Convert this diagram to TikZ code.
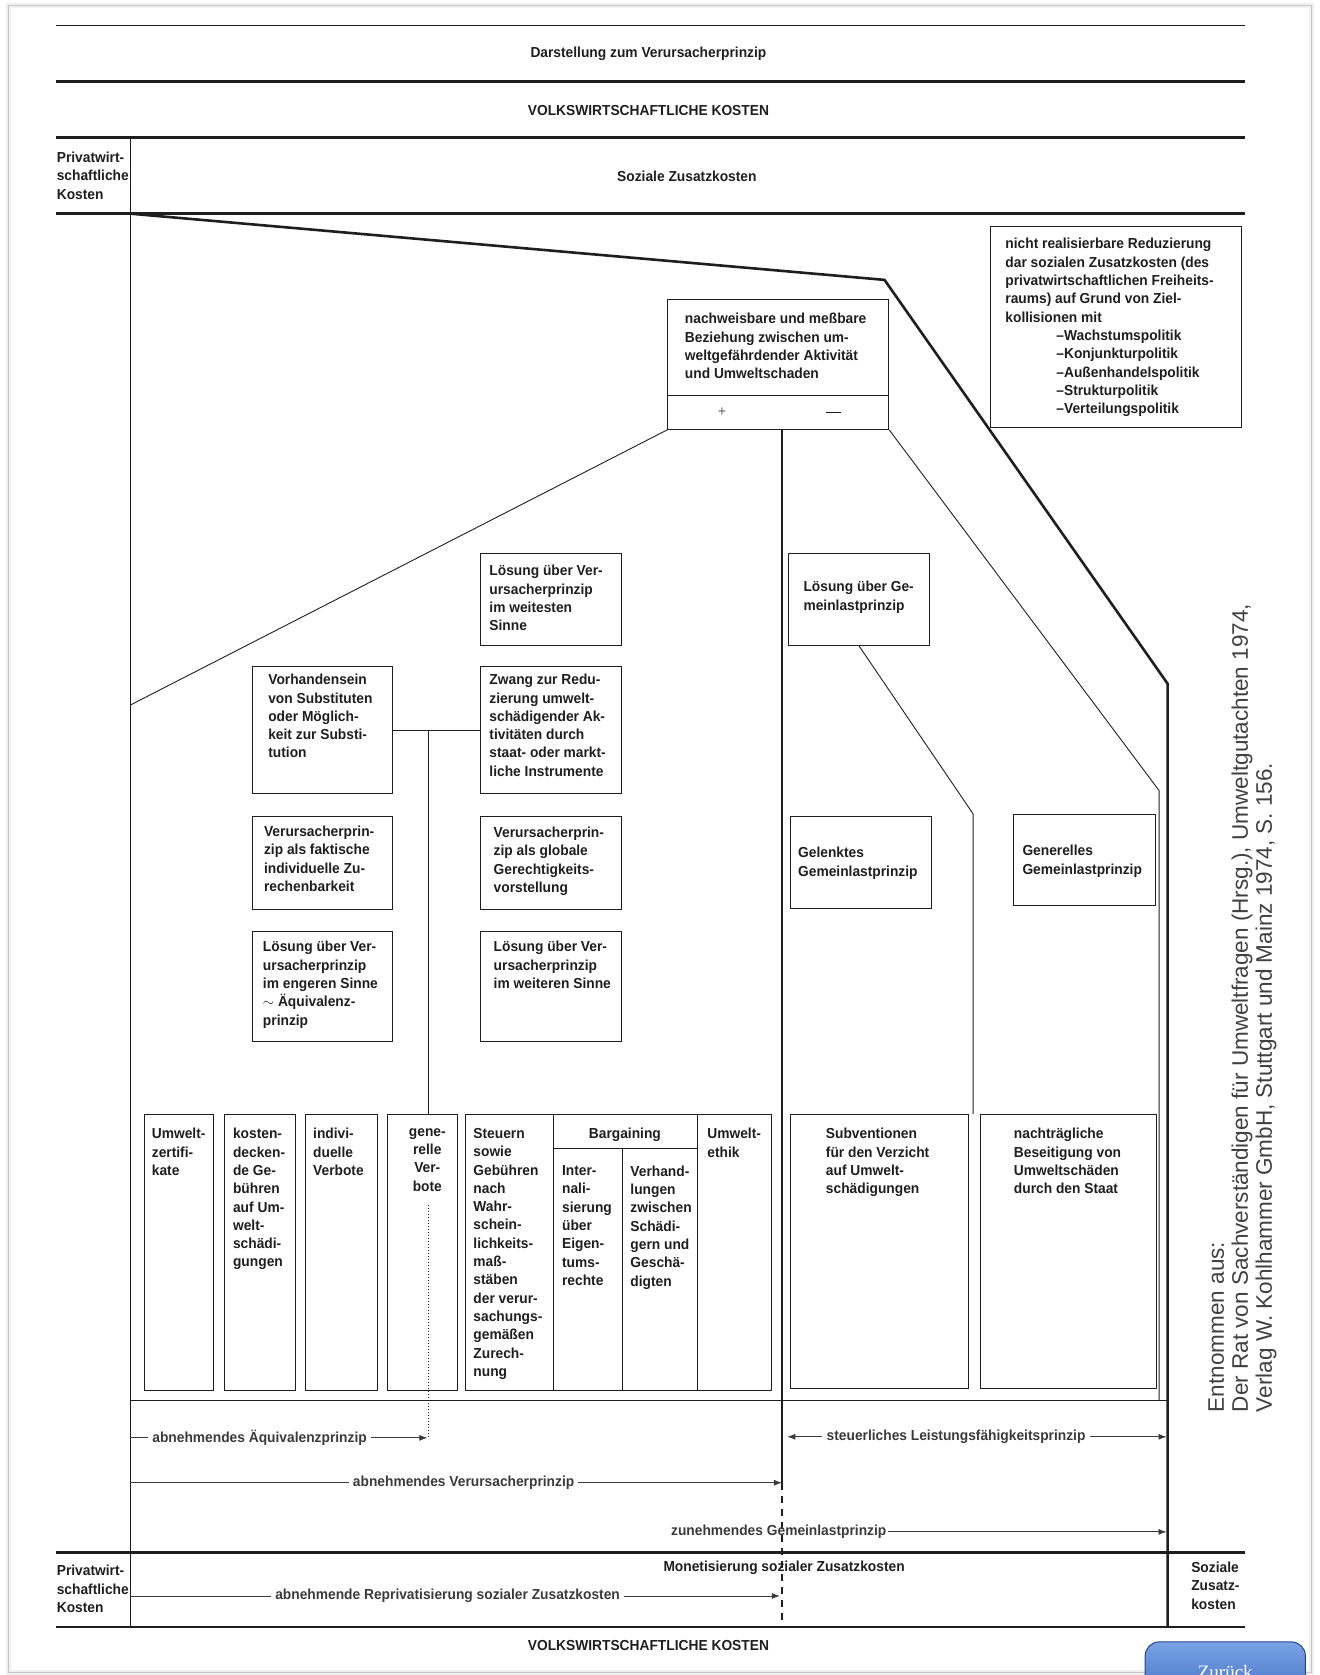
\documentclass[tikz,border=0pt]{standalone}
\usepackage{fontspec}
\setmainfont{Liberation Sans}[FakeStretch=0.95]
\newfontfamily\citefont{Liberation Sans}
\newfontfamily\btnfont{Liberation Serif}
\usetikzlibrary{fit,arrows.meta}

\definecolor{ink}{HTML}{1E1E1E}
\definecolor{arrink}{HTML}{3A3A3A}
\definecolor{btntop}{HTML}{7AA3E6}
\definecolor{btnbot}{HTML}{2E5DB5}
\definecolor{btnedge}{HTML}{24478C}

\tikzset{
  pbox/.style={draw=ink, line width=0.9pt, inner sep=0pt},
  txt/.style={text=ink, font=\bfseries\fontsize{14.5}{18.3}\selectfont, align=left, inner sep=0pt, anchor=north west},
  ctxt/.style={txt, align=center, anchor=north},
  ttl/.style={text=ink, font=\bfseries\fontsize{14.5}{18}\selectfont, inner sep=0pt},
  atxt/.style={text=arrink, font=\bfseries\fontsize{14.5}{18}\selectfont, inner sep=4pt},
  hrule/.style={draw=ink, line width=2.8pt},
  pline/.style={draw=ink, line width=0.9pt},
  conn/.style={draw=ink, line width=0.9pt},
  heavy/.style={draw=ink, line width=2.6pt, line join=miter},
  arr/.style={draw=arrink, line width=0.8pt, -{Latex[length=8pt,width=6pt]}},
  aline/.style={draw=arrink, line width=0.8pt},
}

\begin{document}
\begin{tikzpicture}[x=1.068pt,y=-1.068pt]
\useasboundingbox (0,0) rectangle (1235,1568);

% page frame
\draw[gray!12, line width=5pt] (8,5) rectangle (1228,1566);
\draw[gray!45, line width=1pt] (8,5) rectangle (1228,1566);

% horizontal rules
\draw[draw=ink, line width=1.4pt] (52,24) -- (1165,24);
\draw[hrule] (52,76) -- (1165,76);
\draw[hrule] (52,129) -- (1165,129);
\draw[hrule] (52,200) -- (1165,200);
\draw[hrule] (52,1453) -- (1165,1453);
\draw[hrule] (52,1523) -- (1165,1523);

% titles
\node[ttl] (t1) at (607,50) {Darstellung zum Verursacherprinzip};
\node[ttl] (t2) at (607,103) {VOLKSWIRTSCHAFTLICHE KOSTEN};
\node[ttl] (t3) at (643,165) {Soziale Zusatzkosten};
\node[ttl] (t4) at (607,1540) {VOLKSWIRTSCHAFTLICHE KOSTEN};
\node[txt] (pk1) at (53,142) {Privatwirt-\\schaftliche\\Kosten};
\node[txt] (pk2) at (53,1465) {Privatwirt-\\schaftliche\\Kosten};
\node[txt] (szk) at (1115,1462) {Soziale\\Zusatz-\\kosten};
\node[ttl] (mon) at (734,1468) {Monetisierung sozialer Zusatzkosten};

% main frame lines
\draw[draw=ink, line width=1pt] (122,129) -- (122,1523);
\draw[heavy] (122,200) -- (828,262) -- (1093,640) -- (1093,1523);

% boxes
\node[pbox, fit={(927,212)(1162,400)}] (nicht) {};
\node[txt] (nichtT) at (941,223) {nicht realisierbare Reduzierung\\dar sozialen Zusatzkosten (des\\privatwirtschaftlichen Freiheits-\\raums) auf Grund von Ziel-\\kollisionen mit\\\hspace*{51pt}–Wachstumspolitik\\\hspace*{51pt}–Konjunkturpolitik\\\hspace*{51pt}–Außenhandelspolitik\\\hspace*{51pt}–Strukturpolitik\\\hspace*{51pt}–Verteilungspolitik};

\node[pbox, fit={(625,280)(832,402)}] (nach) {};
\node[txt] (nachT) at (641,293) {nachweisbare und meßbare\\Beziehung zwischen um-\\weltgefährdender Aktivität\\und Umweltschaden};
\draw[pline] (625,370) -- (832,370);
\node[ttl, font=\mdseries\fontsize{15}{15}\selectfont, text=ink!70] (plus) at (676,386) {+};
\node[ttl] (minus) at (780,386) {\rule{15pt}{1.4pt}};

\node[pbox, fit={(738,518)(870,604)}] (lgem) {};
\node[txt] (lgemT) at (752,544) {Lösung über Ge-\\meinlastprinzip};

\node[pbox, fit={(450,518)(582,604)}] (lweit) {};
\node[txt] (lweitT) at (458,529) {Lösung über Ver-\\ursacherprinzip\\im weitesten\\Sinne};

\node[pbox, fit={(236,624)(367,743)}] (vorh) {};
\node[txt] (vorhT) at (251,631) {Vorhandensein\\von Substituten\\oder Möglich-\\keit zur Substi-\\tution};

\node[pbox, fit={(450,624)(582,743)}] (zwang) {};
\node[txt] (zwangT) at (458,631) {Zwang zur Redu-\\zierung umwelt-\\schädigender Ak-\\tivitäten durch\\staat- oder markt-\\liche Instrumente};

\node[pbox, fit={(236,764)(367,851)}] (fakt) {};
\node[txt] (faktT) at (247,773) {Verursacherprin-\\zip als faktische\\individuelle Zu-\\rechenbarkeit};

\node[pbox, fit={(450,764)(582,851)}] (glob) {};
\node[txt] (globT) at (462,774) {Verursacherprin-\\zip als globale\\Gerechtigkeits-\\vorstellung};

\node[pbox, fit={(236,872)(367,975)}] (eng) {};
\node[txt] (engT) at (246,881) {Lösung über Ver-\\ursacherprinzip\\im engeren Sinne\\$\sim$ Äquivalenz-\\prinzip};

\node[pbox, fit={(450,872)(582,975)}] (weiter) {};
\node[txt] (weiterT) at (462,881) {Lösung über Ver-\\ursacherprinzip\\im weiteren Sinne};

\node[pbox, fit={(740,764)(872,850)}] (gelenkt) {};
\node[txt] (gelenktT) at (747,793) {Gelenktes\\Gemeinlastprinzip};

\node[pbox, fit={(949,762)(1082,848)}] (gener) {};
\node[txt] (generT) at (957,791) {Generelles\\Gemeinlastprinzip};

% instrument boxes
\node[pbox, fit={(135,1043)(200,1302)}] (zert) {};
\node[txt] (zertT) at (142,1056) {Umwelt-\\zertifi-\\kate};
\node[pbox, fit={(210,1043)(277,1302)}] (kost) {};
\node[txt] (kostT) at (218,1056) {kosten-\\decken-\\de Ge-\\bühren\\auf Um-\\welt-\\schädi-\\gungen};
\node[pbox, fit={(286,1043)(353,1302)}] (indiv) {};
\node[txt] (indivT) at (293,1056) {indivi-\\duelle\\Verbote};
\node[pbox, fit={(363,1043)(428,1302)}] (genv) {};
\node[ctxt] (genvT) at (400,1056) {gene-\\relle\\Ver-\\bote};
\node[pbox, fit={(436,1043)(722,1302)}] (steu) {};
\draw[pline] (518,1043) -- (518,1302);
\draw[pline] (653,1043) -- (653,1302);
\draw[pline] (518,1075) -- (653,1075);
\draw[pline] (583,1075) -- (583,1302);
\node[txt] (steuT) at (443,1056) {Steuern\\sowie\\Gebühren\\nach\\Wahr-\\schein-\\lichkeits-\\maß-\\stäben\\der verur-\\sachungs-\\gemäßen\\Zurech-\\nung};
\node[ttl] (barg) at (585,1062) {Bargaining};
\node[txt] (intT) at (526,1091) {Inter-\\nali-\\sierung\\über\\Eigen-\\tums-\\rechte};
\node[txt] (verhT) at (590,1091) {Verhand-\\lungen\\zwischen\\Schädi-\\gern und\\Geschä-\\digten};
\node[txt] (ethT) at (662,1056) {Umwelt-\\ethik};

\node[pbox, fit={(740,1043)(907,1300)}] (subv) {};
\node[txt] (subvT) at (773,1056) {Subventionen\\für den Verzicht\\auf Umwelt-\\schädigungen};
\node[pbox, fit={(918,1043)(1083,1300)}] (nachtr) {};
\node[txt] (nachtrT) at (949,1056) {nachträgliche\\Beseitigung von\\Umweltschäden\\durch den Staat};

% connectors
\coordinate (lm) at (122,660);
\draw[conn] (nach.south west) -- (lm);
\coordinate (nm) at (732,402);
\coordinate (vm) at (732,1388);
\draw[heavy] (nm) -- (vm);
\draw[draw=ink, line width=2.6pt, dash pattern=on 7pt off 6pt] (vm) -- (732,1523);
\coordinate (rb) at (1085,740);
\draw[conn] (nach.south east) -- (rb) -- (1085,1311);
\coordinate (gb) at (911,762);
\coordinate (gt) at (911,1043);
\draw[conn] (lgem.south) -- (gb) -- (gt);
\draw[conn] (vorh.east) -- (zwang.west);
\coordinate (jv) at (401,683.5);
\draw[conn] (jv) -- (jv |- genv.north);
\draw[draw=ink, line width=1pt, dash pattern=on 1.3pt off 1.7pt] (401,1128) -- (401,1346);
\draw[pline] (122,1311) -- (1093,1311);

% arrows
\node[atxt] (aeq) at (243,1346) {abnehmendes Äquivalenzprinzip};
\draw[aline] (122,1346) -- (aeq.west);
\draw[arr] (aeq.east) -- (400,1346);

\node[atxt] (stl) at (895,1345) {steuerliches Leistungsfähigkeitsprinzip};
\draw[arr] (stl.west) -- (737,1345);
\draw[arr] (stl.east) -- (1092,1345);

\node[atxt] (avp) at (434,1388) {abnehmendes Verursacherprinzip};
\draw[aline] (122,1388) -- (avp.west);
\draw[arr] (avp.east) -- (vm);

\node[atxt, inner sep=1pt] (zgl) at (729,1434) {zunehmendes Gemeinlastprinzip};
\draw[arr] (zgl.east) -- (1092,1434);

\node[atxt] (rep) at (419,1494) {abnehmende Reprivatisierung sozialer Zusatzkosten};
\draw[aline] (122,1494) -- (rep.west);
\draw[arr] (rep.east) -- (730,1494);

% citation
\node[rotate=90, anchor=north west, font=\citefont\fontsize{22.5}{24}\selectfont, align=left, inner sep=0pt, text=ink!85] (cite) at (1131,1322) {Entnommen aus:\\Der Rat von Sachverständigen für Umweltfragen (Hrsg.), Umweltgutachten 1974,\\Verlag W. Kohlhammer GmbH, Stuttgart und Mainz 1974, S. 156.};

% button
\begin{scope}
\clip (0,0) rectangle (1235,1568);
\shade[top color=btntop, bottom color=btnbot, draw=btnedge, rounded corners=14pt, line width=1pt] (1072,1537) rectangle (1222,1610);
\node[font=\btnfont\fontsize{19}{19}\selectfont, text=white] (zur) at (1147,1565) {Zurück};
\end{scope}
\end{tikzpicture}
\end{document}
